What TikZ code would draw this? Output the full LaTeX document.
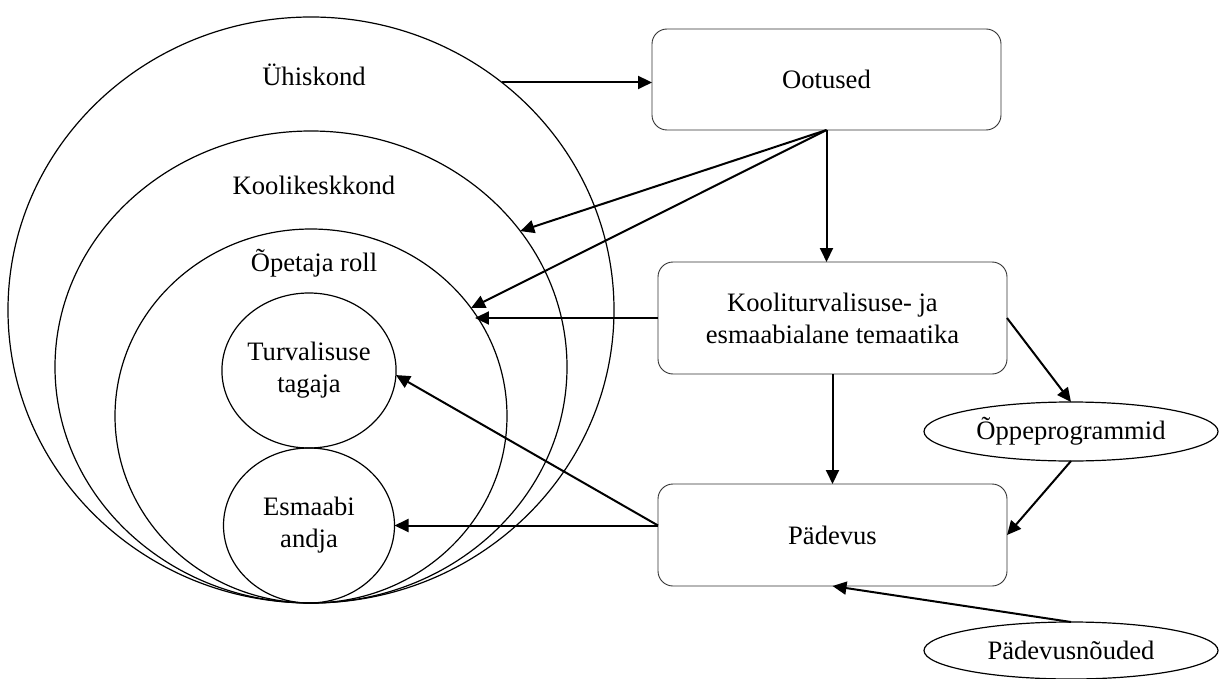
\documentclass[tikz,border=0pt]{standalone}
\usepackage{fontspec}
\setmainfont{Liberation Serif}
\usepackage{tikz}
\usetikzlibrary{arrows.meta,shapes.geometric,calc}
\tikzset{
  ring/.style={ellipse,draw=black,line width=0.6pt,inner sep=0pt,outer sep=0pt,align=center},
  rbox/.style={rectangle,rounded corners=7.5pt,draw=black!80,line width=0.45pt,minimum width=174.5pt,inner sep=0pt,outer sep=0pt,align=center},
  oval/.style={ellipse,draw=black,line width=0.6pt,minimum width=147pt,inner sep=0pt,outer sep=0pt},
  arr/.style={-{Triangle[length=7pt,width=6.5pt]},line width=1pt,black},
}

\begin{document}
\begin{tikzpicture}[x=0.5pt,y=-0.5pt,font=\fontsize{13.3}{16}\selectfont]
  \useasboundingbox (0,0) rectangle (1219,679);
  % nested rings, all touching at the bottom
  \node[ring,minimum width=303pt,minimum height=293pt] (uhis) at (311,310){};
  \node[ring,minimum width=256pt,minimum height=236pt] (kool) at (311,367){};
  \node[ring,minimum width=196pt,minimum height=187pt] (opet) at (311,416){};
  \node[ring,minimum width=85.5pt,minimum height=77.5pt] (turv) at (309,370.5){Turvalisuse\\tagaja};
  \node[ring,minimum width=85.5pt,minimum height=77.5pt] (esma) at (309,525.5){Esmaabi\\andja};
  \node (uhisT) at (314,75){Ühiskond};
  \node (koolT) at (314,185){Koolikeskkond};
  \node (opetT) at (314,263){Õpetaja roll};
  % boxes and ovals on the right
  \node[rbox,minimum height=50.5pt] (ootused) at (826.5,79.5){Ootused};
  \node[rbox,minimum height=56pt] (teema) at (832.5,318){Kooliturvalisuse- ja\\esmaabialane temaatika};
  \node[rbox,minimum height=51pt] (padevus) at (832.5,535){Pädevus};
  \node[oval,minimum height=29.5pt] (oppe) at (1071,431.5){Õppeprogrammid};
  \node[oval,minimum height=28.5pt] (noue) at (1071,650.5){Pädevusnõuded};
  % arrows
  \draw[arr] (uhis.50) -- (uhis.50 -| ootused.west);
  \draw[arr] (ootused.south) -- (kool.33);
  \draw[arr] (ootused.south) -- (opet.34);
  \draw[arr] (ootused.south) -- (ootused.south |- teema.north);
  \draw[arr] (teema.west) -- (teema.west -| opet.32);
  \draw[arr] (teema.east) -- (oppe.north);
  \draw[arr] (teema.south) -- (padevus.north);
  \draw[arr] (oppe.south) -- (padevus.east);
  \draw[arr] (noue.north) -- (padevus.south);
  \draw[arr] (padevus.west |- esma.east) -- (turv.-3);
  \draw[arr] (padevus.west |- esma.east) -- (esma.east);
\end{tikzpicture}
\end{document}
